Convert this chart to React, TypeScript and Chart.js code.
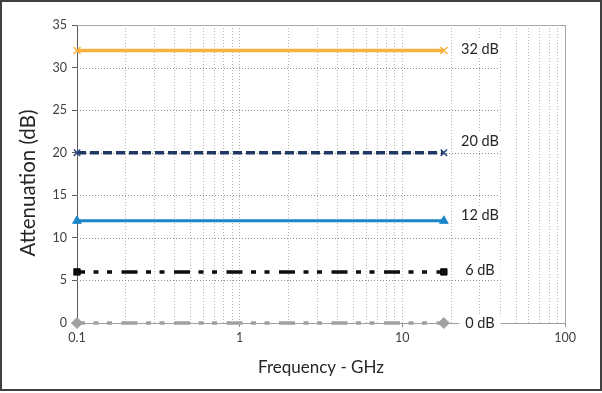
import { useEffect, useRef } from "react";
import { Chart, registerables } from "chart.js";

Chart.register(...registerables);

// ---- data ----
const frequencyGHz = [0.1, 18];
const series32 = [32, 32];
const series20 = [20, 20];
const series12 = [12, 12];
const series6 = [6, 6];
const series0 = [0, 0];
const seriesNames = ["32 dB", "20 dB", "12 dB", "6 dB", "0 dB"];
const labelLevels = [32.2, 21.3, 12.7, 6.2, 0];
const labelFrequency = 30;

const xGridValues = [
  0.1, 0.2, 0.3, 0.4, 0.5, 0.6, 0.7, 0.8, 0.9,
  1, 2, 3, 4, 5, 6, 7, 8, 9,
  10, 20, 30, 40, 50, 60, 70, 80, 90,
  100,
];
const xTickValues = [0.1, 1, 10, 100];
const xTickLabels = ["0.1", "1", "10", "100"];
const yTickValues = [0, 5, 10, 15, 20, 25, 30, 35];
const yTickLabels = ["0", "5", "10", "15", "20", "25", "30", "35"];
const yGridValues = [5, 10, 15, 20, 25, 30];
const hGridEnd = 40;

const xTitle = "Frequency - GHz";
const yTitle = "Attenuation (dB)";

const FONT = "Lato, 'Open Sans', sans-serif";

const same = (a: number, b: number) => Math.abs(a - b) < 1e-9 * Math.max(1, Math.abs(b));
const isDecade = (v: number) => xTickValues.some((t) => same(t, v));

const toPoints = (ys: number[]) => ys.map((y, i) => ({ x: frequencyGHz[i], y }));

const decorPlugin = {
  id: "decor",
  beforeDatasetsDraw(chart: any) {
    const { ctx, chartArea, scales } = chart;
    const { left, right, top, bottom } = chartArea;
    const xs = scales.x;
    const ys = scales.y;
    ctx.save();
    ctx.strokeStyle = "#8C8C8C";
    ctx.lineWidth = 1;
    ctx.setLineDash([1, 2]);
    const xEnd = xs.getPixelForValue(hGridEnd);
    for (const v of yGridValues) {
      const py = Math.round(ys.getPixelForValue(v)) + 0.5;
      ctx.beginPath();
      ctx.moveTo(left, py);
      ctx.lineTo(xEnd, py);
      ctx.stroke();
    }
    ctx.setLineDash([]);
    ctx.strokeStyle = "#A6A6A6";
    ctx.beginPath();
    ctx.moveTo(left, Math.round(top) + 0.5);
    ctx.lineTo(Math.round(right) + 0.5, Math.round(top) + 0.5);
    ctx.lineTo(Math.round(right) + 0.5, bottom);
    ctx.stroke();
    ctx.restore();
  },
  afterDatasetsDraw(chart: any) {
    const { ctx, scales } = chart;
    const xs = scales.x;
    const ys = scales.y;
    ctx.save();
    ctx.font = `14.5px ${FONT}`;
    ctx.textAlign = "center";
    ctx.textBaseline = "middle";
    const cx = xs.getPixelForValue(labelFrequency);
    seriesNames.forEach((name, i) => {
      const cy = ys.getPixelForValue(labelLevels[i]);
      const w = ctx.measureText(name).width;
      ctx.fillStyle = "#ffffff";
      ctx.fillRect(cx - w / 2 - 6, cy - 9, w + 12, 18);
      ctx.fillStyle = "#262626";
      ctx.fillText(name, cx, cy);
    });
    ctx.restore();
  },
  afterDraw(chart: any) {
    const { ctx, chartArea } = chart;
    ctx.save();
    // y title
    ctx.font = `20.5px ${FONT}`;
    ctx.fillStyle = "#262626";
    ctx.textAlign = "center";
    ctx.textBaseline = "middle";
    ctx.translate(28, (chartArea.top + chartArea.bottom) / 2 + 9);
    ctx.rotate(-Math.PI / 2);
    ctx.fillText(yTitle, 0, 0);
    ctx.restore();
    ctx.save();
    ctx.strokeStyle = "#404040";
    ctx.lineWidth = 2;
    ctx.strokeRect(1, 1, 600, 389);
    ctx.restore();
  },
};

export default function App() {
  const ref = useRef<HTMLCanvasElement | null>(null);

  useEffect(() => {
    if (!ref.current) return;
    const lineDashLong = [16, 8.5, 5, 8.5, 5, 9.5];
    const chart = new Chart(ref.current, {
      type: "line",
      data: {
        datasets: [
          {
            label: seriesNames[0],
            data: toPoints(series32),
            borderColor: "#F9B23E",
            backgroundColor: "#F9B23E",
            borderWidth: 3.5,
            pointStyle: "crossRot",
            pointRadius: 5,
            pointBorderWidth: 1.5,
            pointBorderColor: "#F9B23E",
          },
          {
            label: seriesNames[1],
            data: toPoints(series20),
            borderColor: "#1F3864",
            backgroundColor: "#1F3864",
            borderWidth: 3.5,
            borderDash: [9, 4],
            pointStyle: "crossRot",
            pointRadius: 4.5,
            pointBorderWidth: 1.5,
            pointBorderColor: "#2E4A80",
          },
          {
            label: seriesNames[2],
            data: toPoints(series12),
            borderColor: "#1B86C8",
            backgroundColor: "#1B86C8",
            borderWidth: 3,
            pointStyle: "triangle",
            pointRadius: 5,
            pointBorderWidth: 1,
          },
          {
            label: seriesNames[3],
            data: toPoints(series6),
            borderColor: "#0D0D0D",
            backgroundColor: "#0D0D0D",
            borderWidth: 3.5,
            borderDash: lineDashLong,
            borderDashOffset: 8,
            pointStyle: "rect",
            pointRadius: 4.5,
            pointBorderWidth: 1,
          },
          {
            label: seriesNames[4],
            data: toPoints(series0),
            borderColor: "#A0A0A0",
            backgroundColor: "#A0A0A0",
            borderWidth: 3.5,
            borderDash: lineDashLong,
            borderDashOffset: 8,
            pointStyle: "rectRot",
            pointRadius: 5.5,
            pointBorderWidth: 1,
          },
        ],
      },
      options: {
        animation: false,
        responsive: false,
        devicePixelRatio: 1,
        layout: { padding: { left: 0, right: 37, top: 25, bottom: 0 } },
        plugins: {
          legend: { display: false },
          tooltip: { enabled: false },
        },
        elements: { line: { tension: 0 } },
        datasets: { line: { clip: false as any } },
        scales: {
          x: {
            type: "logarithmic",
            position: "bottom",
            min: 0.1,
            max: 100,
            afterBuildTicks: (s: any) => {
              s.ticks = xGridValues.map((v) => ({ value: v, major: isDecade(v) }));
            },
            afterFit: (s: any) => {
              s.height = 70;
            },
            ticks: {
              autoSkip: false,
              maxRotation: 0,
              minRotation: 0,
              padding: 3,
              color: "#404040",
              font: { family: FONT, size: 12.5 },
              callback: (value: any) => {
                const idx = xTickValues.findIndex((t) => same(t, Number(value)));
                return idx >= 0 ? xTickLabels[idx] : "";
              },
            },
            grid: {
              color: "#B4B4B4",
              lineWidth: 1,
              drawTicks: true,
              tickLength: 4,
              tickWidth: 1,
              tickBorderDash: [],
              tickColor: (c: any) => (c.tick && isDecade(c.tick.value) ? "#8C8C8C" : "rgba(0,0,0,0)"),
            },
            border: { display: true, color: "#A0A0A0", width: 1, dash: [1, 2] },
            title: {
              display: true,
              text: xTitle,
              color: "#262626",
              font: { family: FONT, size: 17 },
              padding: { top: 0, bottom: 15 },
            },
          },
          y: {
            type: "linear",
            min: 0,
            max: 35,
            afterBuildTicks: (s: any) => {
              s.ticks = yTickValues.map((v) => ({ value: v }));
            },
            afterFit: (s: any) => {
              s.width = 77;
            },
            ticks: {
              padding: 5,
              color: "#404040",
              font: { family: FONT, size: 12.5 },
              callback: (value: any) => {
                const idx = yTickValues.indexOf(Number(value));
                return idx >= 0 ? yTickLabels[idx] : "";
              },
            },
            grid: {
              drawOnChartArea: false,
              drawTicks: true,
              tickLength: 5,
              tickColor: "#595959",
              tickWidth: 1,
            },
            border: { display: true, color: "#595959", width: 1 },
            title: { display: false },
          },
        },
      },
      plugins: [decorPlugin],
    } as any);
    return () => chart.destroy();
  }, []);

  return (
    <div style={{ position: "fixed", left: 0, top: 0, width: 602, height: 393, background: "#fff" }}>
      <canvas ref={ref} width={602} height={393} style={{ display: "block", width: 602, height: 393 }} />
    </div>
  );
}
